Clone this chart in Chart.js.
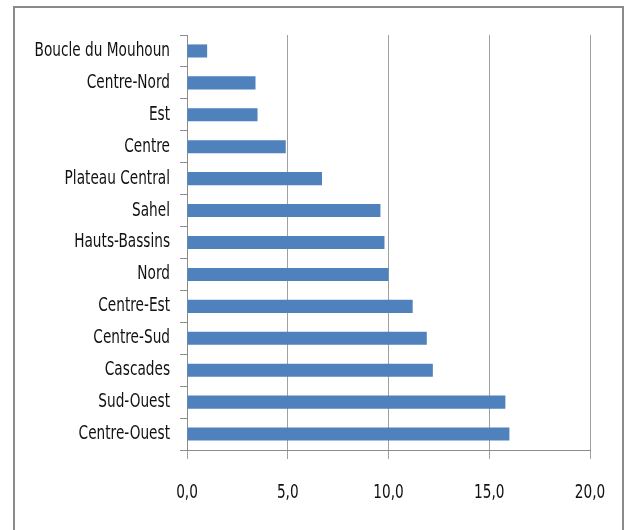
<!DOCTYPE html>
<html>
<head>
<meta charset="utf-8">
<script src="https://cdn.jsdelivr.net/npm/chart.js@4/dist/chart.umd.min.js"></script>
<style>
  html, body { margin: 0; padding: 0; background: #fff; overflow: hidden; }
  #frame {
    position: absolute; left: 13px; top: 6px; width: 607px; height: 560px;
    border: 2px solid #8a8a8a;
  }
  #c { position: absolute; left: 0; top: 0; }
</style>
</head>
<body>
<div id="frame"></div>
<canvas id="c" width="629" height="530"></canvas>
<script>
const regions = [
    'Boucle du Mouhoun', 'Centre-Nord', 'Est', 'Centre', 'Plateau Central',
    'Sahel', 'Hauts-Bassins', 'Nord', 'Centre-Est', 'Centre-Sud',
    'Cascades', 'Sud-Ouest', 'Centre-Ouest'
];
const values = [1.0, 3.4, 3.5, 4.9, 6.7, 9.6, 9.8, 10.0, 11.2, 11.9, 12.2, 15.8, 16.0];
const xTicks = [0, 5, 10, 15, 20];

const fmt = v => v.toFixed(1).replace('.', ',');
const FONT = "19px 'DejaVu Sans Condensed', 'DejaVu Sans', sans-serif";
const SQUEEZE = 0.8; // the original labels are tall and narrow

// draw the tick labels squeezed horizontally, placed by the chart's scales
const narrowLabels = {
    id: 'narrowLabels',
    afterDraw(chart) {
        const ctx = chart.ctx;
        const xs = chart.scales.x, ys = chart.scales.y;
        ctx.save();
        ctx.fillStyle = '#111';
        ctx.font = FONT;
        ctx.textBaseline = 'middle';

        ctx.textAlign = 'right';
        ys.ticks.forEach((t, i) => {
            ctx.save();
            ctx.translate(ys.right - 7 - 10, ys.getPixelForTick(i));
            ctx.scale(SQUEEZE, 1);
            ctx.fillText(regions[t.value], 0, 0);
            ctx.restore();
        });

        ctx.textAlign = 'center';
        xs.ticks.forEach((t, i) => {
            ctx.save();
            ctx.translate(xs.getPixelForTick(i), xs.top + 43);
            ctx.scale(SQUEEZE, 1);
            ctx.fillText(fmt(t.value), 0, 0);
            ctx.restore();
        });
        ctx.restore();
    }
};

new Chart(document.getElementById('c'), {
    type: 'bar',
    data: {
        labels: regions,
        datasets: [{
            data: values,
            backgroundColor: '#4f81bd',
            categoryPercentage: 1,
            barPercentage: 0.41
        }]
    },
    options: {
        indexAxis: 'y',
        responsive: false,
        animation: false,
        layout: { padding: { top: 35, right: 39, left: 0, bottom: 0 } },
        plugins: { legend: { display: false }, tooltip: { enabled: false } },
        scales: {
            x: {
                min: xTicks[0],
                max: xTicks[xTicks.length - 1],
                afterBuildTicks: s => { s.ticks = xTicks.map(v => ({ value: v })); },
                afterFit: s => { s.height = 80; },
                grid: { color: '#a0a0a0', lineWidth: 1, tickLength: 9 },
                border: { color: '#8c8c8c', width: 1 },
                ticks: { display: false }
            },
            y: {
                afterFit: s => { s.width = 187; },
                grid: { offset: true, drawOnChartArea: false, tickLength: 7, color: '#8c8c8c' },
                border: { color: '#8c8c8c', width: 1 },
                ticks: { display: false, autoSkip: false }
            }
        }
    },
    plugins: [narrowLabels]
});
</script>
</body>
</html>
